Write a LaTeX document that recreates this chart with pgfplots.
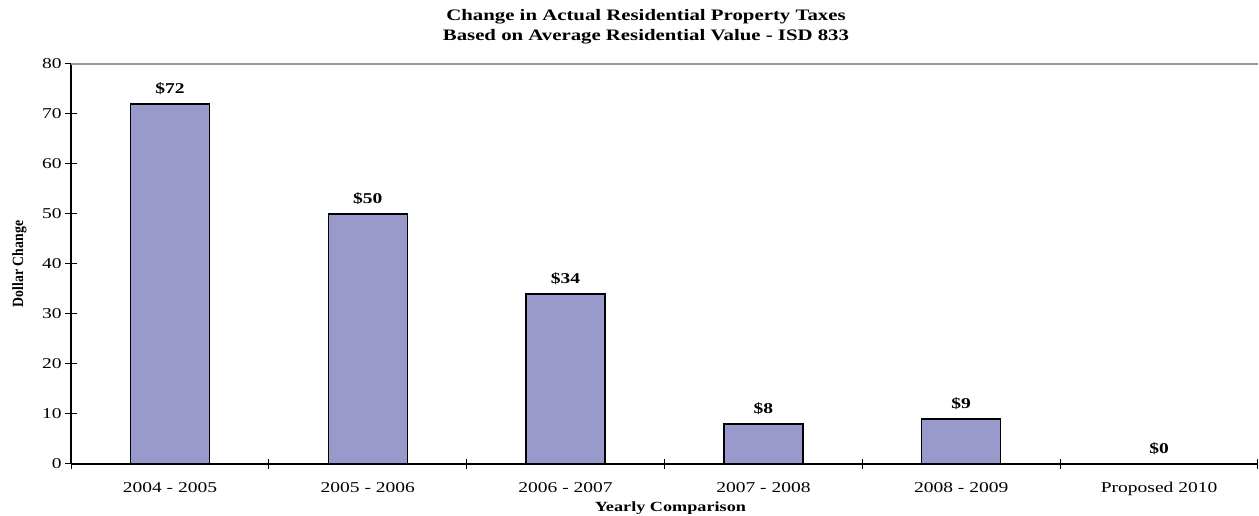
\documentclass[border=0pt]{standalone}
\usepackage{fontspec}
\setmainfont{Liberation Serif}
\usepackage{pgfplots}
\pgfplotsset{compat=1.18}
\usepackage{graphicx}
\definecolor{barfill}{RGB}{153,153,204}
\newcommand{\sx}[1]{\scalebox{1.3}[1]{#1}}
\begin{document}
\begin{tikzpicture}
\useasboundingbox (0,0) rectangle (1259pt,516pt);
\begin{axis}[
  at={(71pt,52pt)}, anchor=south west,
  scale only axis, width=1187pt, height=400pt,
  xmin=-0.5, xmax=5.5, ymin=0, ymax=80,
  ybar, bar width=79pt,
  axis lines*=left,
  axis line style={line width=1.2pt, black},
  clip=false,
  ytick={0,10,...,80},
  xtick={0,...,5},
  xticklabels={\sx{2004 - 2005},\sx{2005 - 2006},\sx{2006 - 2007},\sx{2007 - 2008},\sx{2008 - 2009},\sx{Proposed 2010}},
  minor xtick={-0.5,0.5,...,5.5},
  major x tick style={draw=none},
  minor x tick style={line width=1pt, black},
  major y tick style={line width=1pt, black},
  tick align=center,
  major tick length=11.5pt,
  minor tick length=10pt,
  yticklabel={\sx{\pgfmathprintnumber[assume math mode=true]{\tick}}},
  ticklabel style={font=\fontsize{15}{18}\selectfont},
  xticklabel style={yshift=-9pt},
  xlabel={\sx{Yearly Comparison}},
  xlabel style={font=\bfseries\fontsize{14}{16}\selectfont, at={(axis description cs:0.505,-0.11)}, anchor=center},
  ylabel={\scalebox{1.15}[1.3]{Dollar Change}},
  ylabel style={font=\bfseries\fontsize{12}{14}\selectfont, at={(axis description cs:-0.0434,0.5)}, anchor=center},
  title={\sx{Change in Actual Residential Property Taxes}\\\sx{Based on Average Residential Value - ISD 833}},
  title style={font=\bfseries\fontsize{16}{20}\selectfont, align=center, at={(axis description cs:0.4844,1.0775)}, anchor=center},
  nodes near coords={\sx{\$\pgfmathprintnumber[assume math mode=true]{\pgfplotspointmeta}}},
  nodes near coords style={font=\bfseries\fontsize{15}{18}\selectfont, anchor=center, yshift=15pt},
]
\addplot[fill=barfill, draw=black, line width=1.2pt] coordinates {(0,72) (1,50) (2,34) (3,8) (4,9) (5,0)};
\draw[gray!80, line width=1.2pt] (rel axis cs:0,1) -- (rel axis cs:1,1);
\end{axis}
\end{tikzpicture}
\end{document}
